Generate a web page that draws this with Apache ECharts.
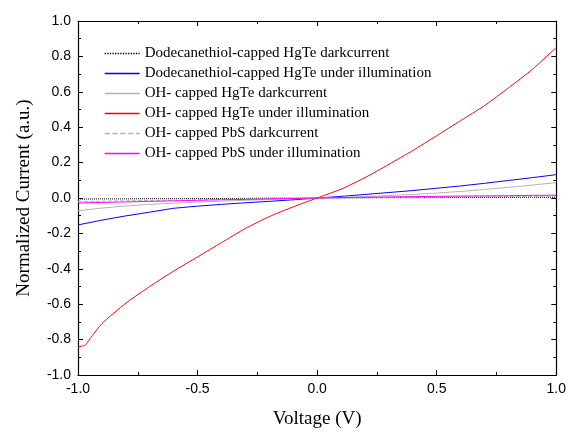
<!DOCTYPE html>
<html>
<head>
<meta charset="utf-8">
<script src="https://cdn.jsdelivr.net/npm/echarts@6/dist/echarts.min.js"></script>
<style>
  html, body { margin: 0; padding: 0; background: #fff; }
  #chart { width: 569px; height: 434px; }
</style>
</head>
<body>
<div id="chart"></div>
<script>
// voltage sweep (V)
const voltage = [-1.0, -0.9, -0.8, -0.7, -0.6, -0.5, -0.4, -0.3, -0.2, -0.1, 0.0,
                 0.1, 0.2, 0.3, 0.4, 0.5, 0.6, 0.7, 0.8, 0.9, 1.0]
// the red curve has a small flat step near -1 V, so it gets a few extra points
const voltageRed = [-1.0, -0.97, -0.95, -0.9, -0.8, -0.7, -0.6, -0.5, -0.4, -0.3, -0.2, -0.1, 0.0,
                    0.1, 0.2, 0.3, 0.4, 0.5, 0.6, 0.7, 0.8, 0.9, 1.0]

// normalized current
const dodecDark = [-0.006, -0.005, -0.005, -0.004, -0.004, -0.003, -0.003, -0.002, -0.001, -0.001, 0,
                   0.001, 0.001, 0.002, 0.002, 0.002, 0.003, 0.003, 0.003, 0.004, 0.004]
const dodecLight = [-0.152, -0.125, -0.101, -0.080, -0.058, -0.046, -0.036, -0.027, -0.019, -0.010, 0,
                    0.009, 0.020, 0.031, 0.042, 0.055, 0.068, 0.083, 0.099, 0.115, 0.132]
const ohHgTeDark = [-0.072, -0.057, -0.045, -0.036, -0.029, -0.023, -0.018, -0.013, -0.009, -0.004, 0,
                    0.003, 0.008, 0.014, 0.020, 0.028, 0.037, 0.048, 0.060, 0.073, 0.087]
const ohHgTeLight = [-0.84, -0.832, -0.795, -0.71, -0.594, -0.5, -0.413, -0.333, -0.252, -0.172, -0.105, -0.05, 0,
                     0.05, 0.115, 0.19, 0.268, 0.352, 0.437, 0.522, 0.622, 0.727, 0.85]
const ohPbSDark = [-0.020, -0.018, -0.016, -0.014, -0.012, -0.010, -0.008, -0.006, -0.004, -0.002, 0,
                   0.001, 0.002, 0.003, 0.004, 0.005, 0.006, 0.007, 0.008, 0.009, 0.010]
const ohPbSLight = [-0.028, -0.025, -0.022, -0.019, -0.016, -0.013, -0.010, -0.008, -0.005, -0.003, 0,
                    0.002, 0.004, 0.006, 0.008, 0.009, 0.011, 0.012, 0.013, 0.015, 0.016]

const seriesNames = [
  'Dodecanethiol-capped HgTe darkcurrent',
  'Dodecanethiol-capped HgTe under illumination',
  'OH- capped HgTe darkcurrent',
  'OH- capped HgTe under illumination',
  'OH- capped PbS darkcurrent',
  'OH- capped PbS under illumination'
]
const seriesX = [voltage, voltage, voltage, voltageRed, voltage, voltage]
const seriesData = [dodecDark, dodecLight, ohHgTeDark, ohHgTeLight, ohPbSDark, ohPbSLight]
const seriesColors = ['#000000', '#0000ff', '#b4b4b4', '#ff0000', '#b4b4b4', '#ff00ff']
const seriesDash = ['dotted', 'solid', 'solid', 'solid', 'dashed', 'solid']

const chart = echarts.init(document.getElementById('chart'))

const axisBase = {
  type: 'value',
  min: -1,
  max: 1,
  axisLine: { show: true, onZero: false, lineStyle: { color: '#000', width: 1.2 } },
  axisTick: { show: true, inside: true, length: 5, lineStyle: { color: '#000', width: 1 } },
  minorTick: { show: true, splitNumber: 2, length: 3, lineStyle: { color: '#000', width: 1 } },
  splitLine: { show: false },
  minorSplitLine: { show: false }
}

const option = {
  animation: false,
  grid: { left: 78, right: 11, top: 21, bottom: 56 },
  legend: {
    orient: 'vertical',
    left: 99,
    top: 41,
    itemWidth: 35,
    itemHeight: 14,
    itemGap: 5,
    itemStyle: { opacity: 0 },
    textStyle: { fontFamily: 'Liberation Serif', fontSize: 15, color: '#000' },
    data: seriesNames.map((name, i) => ({
      name: name,
      lineStyle: { color: seriesColors[i], width: 1.3, type: seriesDash[i] }
    }))
  },
  xAxis: [
    Object.assign({}, axisBase, {
      position: 'bottom',
      interval: 0.5,
      name: 'Voltage (V)',
      nameLocation: 'middle',
      nameGap: 35,
      nameTextStyle: { fontFamily: 'Liberation Serif', fontSize: 19, color: '#000' },
      axisLabel: {
        margin: 7,
        fontFamily: 'Liberation Sans',
        fontSize: 14,
        color: '#000',
        formatter: v => v.toFixed(1)
      }
    }),
    Object.assign({}, axisBase, {
      position: 'top',
      interval: 0.5,
      axisLabel: { show: false }
    })
  ],
  yAxis: [
    Object.assign({}, axisBase, {
      position: 'left',
      interval: 0.2,
      name: 'Normalized Current (a.u.)',
      nameLocation: 'middle',
      nameGap: 44,
      nameTextStyle: { fontFamily: 'Liberation Serif', fontSize: 19, color: '#000' },
      axisLabel: {
        margin: 7,
        fontFamily: 'Liberation Sans',
        fontSize: 14,
        color: '#000',
        formatter: v => v.toFixed(1)
      }
    }),
    Object.assign({}, axisBase, {
      position: 'right',
      interval: 0.2,
      axisLabel: { show: false }
    })
  ],
  series: seriesNames.map((name, i) => ({
    name: name,
    type: 'line',
    xAxisIndex: 0,
    yAxisIndex: 0,
    symbol: 'none',
    smooth: i === 3 ? 0.2 : false,
    color: seriesColors[i],
    lineStyle: { color: seriesColors[i], width: 1, type: seriesDash[i] },
    data: seriesX[i].map((v, k) => [v, seriesData[i][k]])
  }))
}

chart.setOption(option)
</script>
</body>
</html>
